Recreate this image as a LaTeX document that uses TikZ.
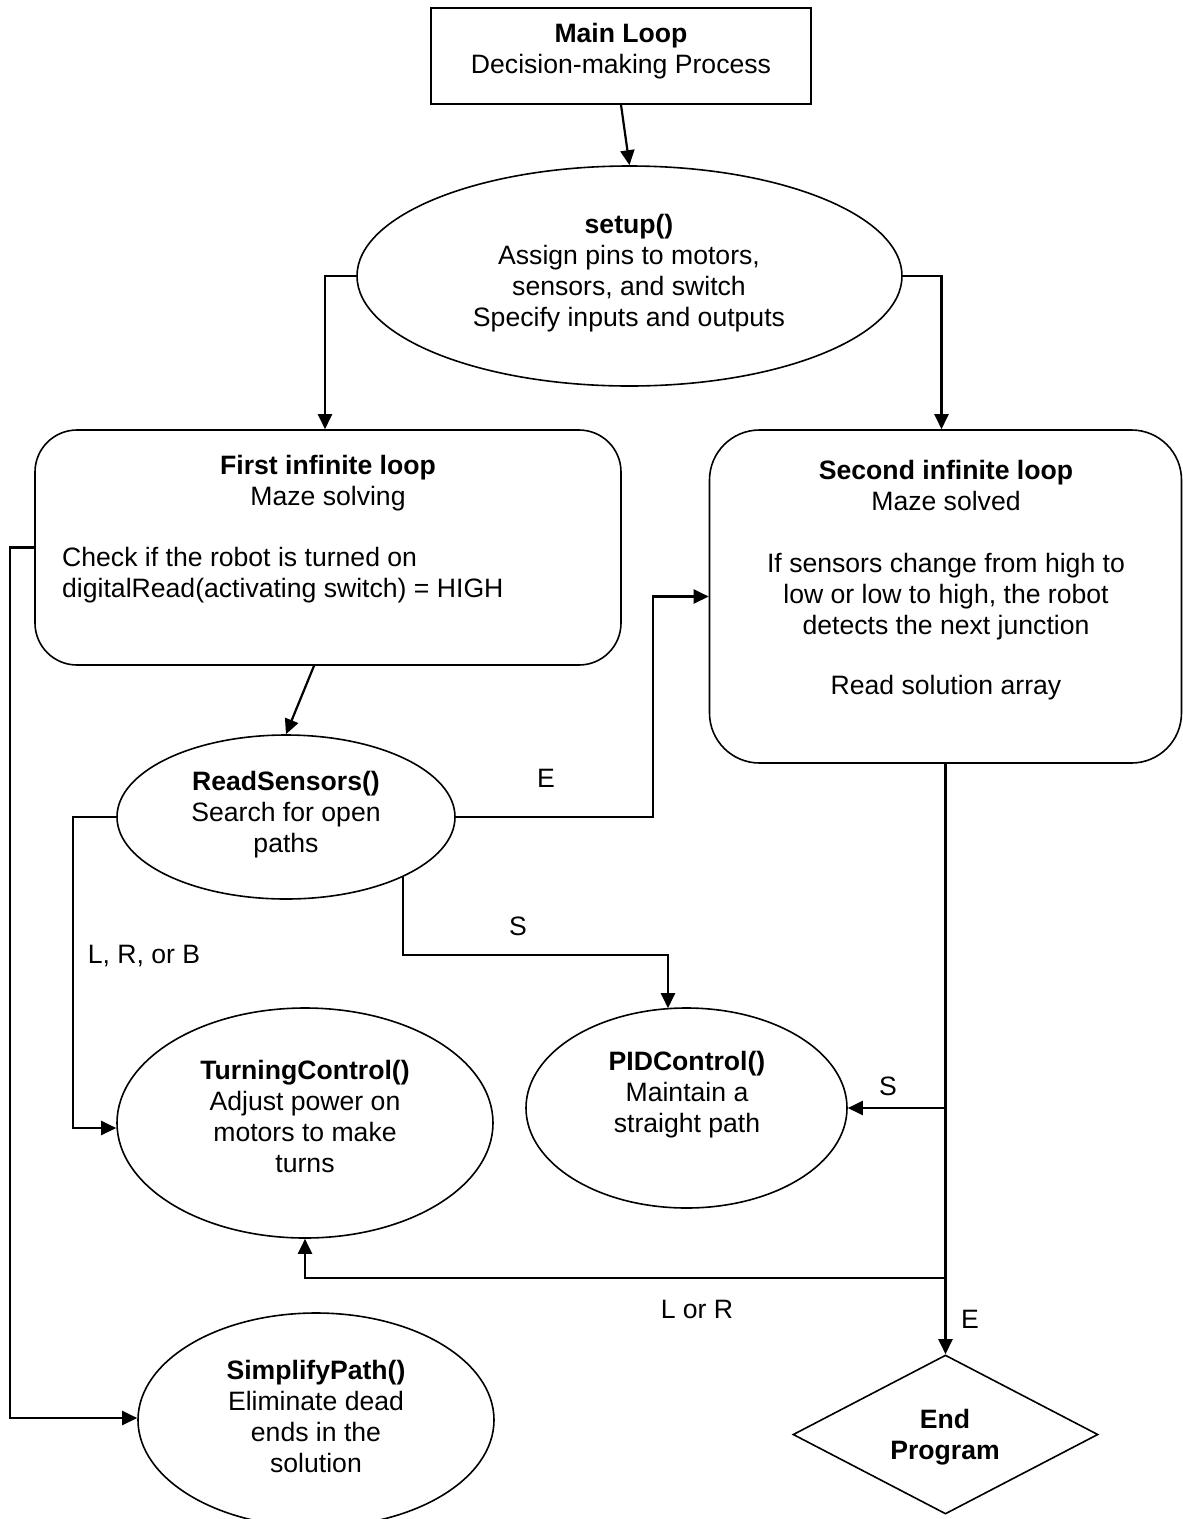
\documentclass[tikz,border=0pt]{standalone}
\usepackage{fontspec}
\setmainfont{Liberation Sans}
\usetikzlibrary{shapes.geometric,arrows.meta,calc}
\begin{document}
\begin{tikzpicture}[x=1pt,y=-1pt,
  shp/.style={draw,line width=1.6pt,inner sep=0pt},
  ell/.style={shp,ellipse},
  box/.style={shp,rectangle},
  rbox/.style={shp,rectangle,rounded corners=42pt},
  dia/.style={shp,diamond},
  txt/.style={align=center,font=\fontsize{26.6}{31}\selectfont,inner sep=0pt},
  lbl/.style={font=\fontsize{26.6}{31}\selectfont,inner sep=0pt},
  con/.style={line width=2.2pt},
  arr/.style={con,-{Triangle[length=15pt,width=14pt]}},
]
\useasboundingbox (0,0) rectangle (1183,1519);

% shapes
\node[box, minimum width=380pt, minimum height=96pt] (main) at (621,56) {};
\node[ell, minimum width=545pt, minimum height=220pt] (setup) at (629.5,276) {};
\node[rbox, minimum width=586pt, minimum height=235pt] (first) at (328,547.5) {};
\node[rbox, minimum width=472pt, minimum height=333pt, rounded corners=50pt] (second) at (945.5,596.5) {};
\node[ell, minimum width=338pt, minimum height=164pt] (rs) at (286,817) {};
\node[ell, minimum width=376pt, minimum height=230pt] (tc) at (305,1123) {};
\node[ell, minimum width=321pt, minimum height=200pt] (pid) at (686.5,1108) {};
\node[ell, minimum width=356pt, minimum height=214pt] (sp) at (316,1420) {};
\node[dia, minimum width=305pt, minimum height=159pt] (end) at (945.5,1434.5) {};

% texts
\node[txt] (main-t) at (621,51) {\textbf{Main Loop}\\Decision-making Process};
\node[txt] (setup-t) at (629,273) {\textbf{setup()}\\Assign pins to motors,\\sensors, and switch\\Specify inputs and outputs};
\node[txt] (first-t) at (328,483) {\textbf{First infinite loop}\\Maze solving};
\node[txt, align=left, anchor=west] (first-b) at (62,575) {Check if the robot is turned on\\digitalRead(activating switch) = HIGH};
\node[txt] (second-t) at (946,580) {\textbf{Second infinite loop}\\Maze solved\\[31pt]If sensors change from high to\\low or low to high, the robot\\detects the next junction\\[29pt]Read solution array};
\node[txt] (rs-t) at (286,815) {\textbf{ReadSensors()}\\Search for open\\paths};
\node[txt] (tc-t) at (305,1116) {\textbf{TurningControl()}\\Adjust power on\\motors to make\\turns};
\node[txt] (pid-t) at (687,1095) {\textbf{PIDControl()}\\Maintain a\\straight path};
\node[txt] (sp-t) at (316,1416) {\textbf{SimplifyPath()}\\Eliminate dead\\ends in the\\solution};
\node[txt] (end-t) at (945,1437) {\textbf{End}\\\textbf{Program}};

% connectors
\draw[arr] (main.south) -- (setup.north);
\draw[arr] (setup.west) -| ([xshift=-3pt]first.north);
\draw[arr] (setup.east) -| ([xshift=-4pt]second.north);
\draw[arr] ([xshift=-14pt]first.south) -- (rs.north);
\coordinate (e1) at (653,817);
\draw[arr] (rs.east) -- (e1) |- (second.west);
\coordinate (s1) at (668,955);
\draw[arr] (rs.-27) |- (s1) -- ([yshift=-1pt]s1 |- pid.north);
\coordinate (l1) at (73,817);
\draw[arr] (rs.west) -- (l1) |- ([yshift=-5pt]tc.west);
\coordinate (f1) at (10,547.5);
\draw[arr] (first.west) -- (f1) |- ([yshift=2pt]sp.west);
\coordinate (j1) at (945.5,1108);
\coordinate (j2) at (945.5,1278);
\draw[arr] (second.south) -- (end.north);
\draw[arr] (j1) -- (pid.east);
\draw[arr] (j2) -| (tc.south);

% labels
\node[lbl] (lE1) at (546,778) {E};
\node[lbl] (lS1) at (518,926) {S};
\node[lbl] (lLRB) at (144,956) {L, R, or B};
\node[lbl] (lS2) at (888,1086) {S};
\node[lbl] (lLR) at (697,1309) {L or R};
\node[lbl] (lE2) at (970,1319) {E};
\end{tikzpicture}
\end{document}
